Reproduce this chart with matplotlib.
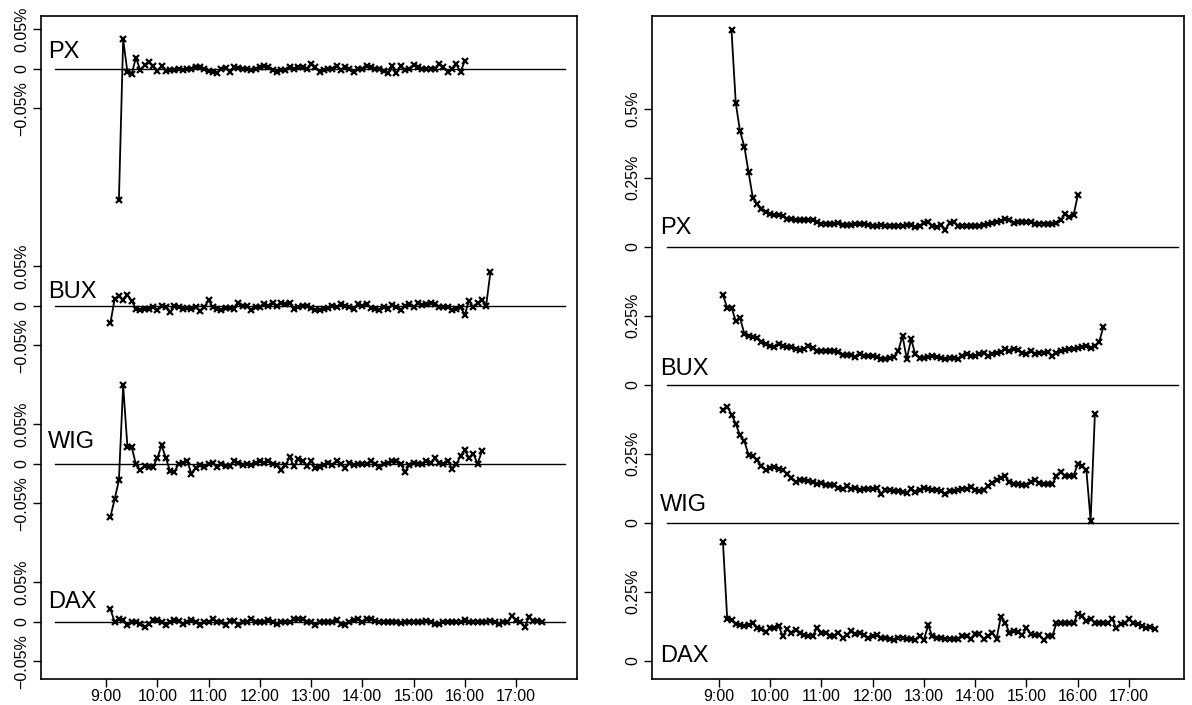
import numpy as np
import matplotlib
matplotlib.use("Agg")
import matplotlib.pyplot as plt

plt.rcParams['font.family'] = ['Liberation Sans', 'DejaVu Sans']

# ---------------- data ----------------
names = ["PX", "BUX", "WIG", "DAX"]
start_times = {"PX": "9:15", "BUX": "9:05", "WIG": "9:05", "DAX": "9:05"}  # 5-minute steps
x_ticks = [9, 10, 11, 12, 13, 14, 15, 16, 17]
x_tick_labels = ["9:00", "10:00", "11:00", "12:00", "13:00", "14:00", "15:00", "16:00", "17:00"]

# left panel: mean (in %)
left_px = [-0.1667, 0.0371, -0.0042, -0.0063, 0.0139, -0.0021, 0.0042, 0.0084, 0.0030, -0.0030,
           0.0034, -0.003, -0.002, -0.002, -0.001, -0.002, 0.0, 0.0, 0.002, 0.002,
           -0.001, -0.003, -0.004, -0.005, 0.0, 0.001, -0.004, 0.002, 0.001, -0.001,
           -0.001, -0.002, -0.001, 0.002, 0.003, 0.002, -0.002, -0.004, -0.002, -0.002,
           0.002, 0.0, 0.002, 0.002, 0.0, 0.0055, 0.002, -0.004, -0.002, -0.001,
           -0.001, 0.003, -0.002, 0.002, -0.001, -0.004, 0.0, 0.0, 0.004, 0.002,
           0.0, -0.001, -0.003, -0.005, 0.003, -0.005, 0.003, -0.002, -0.001, 0.005,
           0.002, -0.001, -0.001, -0.001, 0.0, 0.006, 0.002, -0.004, -0.001, 0.0055,
           -0.004, 0.0097]
left_bux = [-0.0224, 0.0084, 0.0127, 0.0072, 0.0139, 0.0063, -0.0042, -0.0055, -0.0042, -0.0042,
            -0.002, -0.0055, 0.0, -0.002, -0.0084, -0.001, -0.002, -0.004, -0.003, -0.004,
            -0.002, -0.007, -0.002, 0.007, -0.002, -0.004, -0.0055, -0.003, -0.003, -0.004,
            0.003, 0.0, -0.001, -0.0055, -0.002, -0.002, 0.002, 0.0, 0.004, 0.0,
            0.004, 0.002, 0.003, -0.004, -0.002, 0.0, 0.0, -0.003, -0.0055, -0.0055,
            -0.004, -0.003, -0.001, -0.002, 0.002, 0.0, -0.002, -0.004, 0.002, -0.001,
            0.002, -0.003, -0.004, -0.006, -0.002, -0.004, 0.001, -0.002, -0.0055, 0.0,
            0.002, -0.002, 0.003, 0.001, 0.002, 0.003, 0.002, -0.002, -0.002, -0.002,
            -0.0055, -0.004, -0.002, -0.0114, 0.0063, -0.002, 0.003, 0.007, 0.0, 0.0422]
left_wig = [-0.0675, -0.0451, -0.0211, 0.0992, 0.0211, 0.0211, -0.001, -0.0084, -0.003, -0.004,
            -0.004, 0.0072, 0.0232, 0.0072, -0.0097, -0.0105, 0.0, 0.001, 0.003, -0.0127,
            -0.0055, -0.002, -0.004, -0.001, 0.001, -0.004, -0.001, -0.003, -0.003, 0.003,
            0.001, -0.002, 0.0, -0.002, 0.001, 0.004, 0.001, 0.003, -0.001, -0.002,
            -0.0084, -0.002, 0.0084, -0.003, 0.0055, 0.004, -0.003, 0.004, -0.0055, -0.004,
            -0.002, 0.001, -0.002, 0.004, -0.001, -0.0055, 0.001, -0.002, -0.001, -0.001,
            -0.001, 0.003, -0.001, -0.004, -0.001, 0.001, 0.004, 0.003, 0.0, -0.0105,
            -0.002, 0.001, -0.001, 0.0, 0.004, 0.001, 0.0072, 0.001, 0.0, 0.004,
            -0.0063, -0.001, 0.0097, 0.0169, 0.0072, 0.0127, 0.0, 0.0156]
left_dax = [0.016, 0.0, 0.0034, 0.0025, -0.0042, -0.001, -0.001, -0.003, -0.007, -0.003,
            0.0025, 0.0025, -0.001, -0.0042, -0.001, 0.0025, 0.001, -0.003, -0.001, 0.0025,
            -0.001, -0.0042, -0.001, -0.001, 0.004, 0.0, 0.0, -0.0042, 0.001, 0.001,
            -0.0042, -0.001, -0.001, 0.004, -0.001, 0.0, -0.001, 0.0025, 0.0, -0.003,
            -0.001, 0.0, -0.001, 0.0034, 0.0034, 0.0034, -0.001, -0.001, -0.0042, 0.0,
            -0.001, 0.0, -0.001, 0.0025, -0.003, -0.0042, -0.001, 0.0025, 0.0034, -0.001,
            0.004, 0.004, 0.001, 0.0, 0.0, 0.0, -0.001, -0.001, -0.002, -0.001,
            0.0, -0.001, -0.001, -0.001, 0.001, -0.001, -0.003, -0.003, -0.001, 0.0,
            0.0, -0.001, -0.001, 0.0025, 0.0, -0.001, -0.001, -0.001, 0.0, 0.001,
            -0.001, -0.003, -0.001, -0.001, 0.0076, 0.0025, 0.0, -0.007, 0.0055, 0.001,
            0.001, 0.0]

# right panel: dispersion (in %)
right_px = [0.784, 0.519, 0.418, 0.363, 0.269, 0.176, 0.155, 0.138, 0.125, 0.119,
            0.115, 0.114, 0.112, 0.100, 0.099, 0.097, 0.096, 0.095, 0.096, 0.095,
            0.090, 0.084, 0.084, 0.084, 0.084, 0.085, 0.080, 0.079, 0.080, 0.081,
            0.083, 0.081, 0.080, 0.074, 0.076, 0.077, 0.074, 0.074, 0.074, 0.076,
            0.076, 0.077, 0.079, 0.070, 0.075, 0.085, 0.090, 0.076, 0.072, 0.078,
            0.062, 0.087, 0.090, 0.074, 0.074, 0.074, 0.074, 0.074, 0.076, 0.079,
            0.083, 0.086, 0.090, 0.092, 0.100, 0.098, 0.086, 0.088, 0.089, 0.090,
            0.088, 0.082, 0.084, 0.084, 0.082, 0.084, 0.086, 0.096, 0.118, 0.106,
            0.114, 0.186]
right_bux = [0.324, 0.279, 0.279, 0.231, 0.241, 0.185, 0.177, 0.173, 0.171, 0.156,
             0.149, 0.141, 0.137, 0.149, 0.141, 0.137, 0.135, 0.129, 0.125, 0.131,
             0.141, 0.132, 0.123, 0.123, 0.123, 0.123, 0.123, 0.120, 0.108, 0.108,
             0.108, 0.101, 0.110, 0.104, 0.104, 0.104, 0.101, 0.093, 0.093, 0.097,
             0.101, 0.123, 0.177, 0.093, 0.165, 0.110, 0.097, 0.097, 0.101, 0.104,
             0.101, 0.097, 0.093, 0.097, 0.097, 0.093, 0.104, 0.110, 0.104, 0.104,
             0.110, 0.116, 0.104, 0.110, 0.116, 0.120, 0.129, 0.123, 0.129, 0.125,
             0.116, 0.110, 0.123, 0.112, 0.116, 0.116, 0.120, 0.104, 0.116, 0.123,
             0.125, 0.129, 0.129, 0.132, 0.135, 0.141, 0.132, 0.141, 0.156, 0.209]
right_wig = [0.409, 0.421, 0.392, 0.358, 0.316, 0.295, 0.246, 0.240, 0.226, 0.204,
             0.192, 0.199, 0.202, 0.196, 0.190, 0.178, 0.163, 0.147, 0.156, 0.154,
             0.151, 0.147, 0.141, 0.144, 0.135, 0.135, 0.135, 0.127, 0.123, 0.132,
             0.123, 0.127, 0.117, 0.123, 0.123, 0.123, 0.127, 0.105, 0.117, 0.117,
             0.114, 0.114, 0.110, 0.107, 0.123, 0.110, 0.117, 0.127, 0.123, 0.120,
             0.117, 0.114, 0.105, 0.114, 0.114, 0.117, 0.123, 0.123, 0.129, 0.120,
             0.114, 0.120, 0.132, 0.144, 0.154, 0.163, 0.168, 0.147, 0.141, 0.139,
             0.135, 0.135, 0.147, 0.154, 0.144, 0.141, 0.141, 0.139, 0.168, 0.183,
             0.171, 0.168, 0.171, 0.211, 0.204, 0.192, 0.007, 0.394]
right_dax = [0.429, 0.150, 0.146, 0.132, 0.128, 0.126, 0.128, 0.135, 0.120, 0.114,
             0.104, 0.120, 0.120, 0.126, 0.090, 0.114, 0.102, 0.112, 0.102, 0.092,
             0.090, 0.090, 0.120, 0.102, 0.100, 0.090, 0.088, 0.102, 0.084, 0.092,
             0.108, 0.096, 0.102, 0.092, 0.084, 0.090, 0.092, 0.084, 0.084, 0.080,
             0.076, 0.084, 0.084, 0.080, 0.078, 0.076, 0.088, 0.076, 0.128, 0.088,
             0.084, 0.084, 0.080, 0.080, 0.080, 0.080, 0.090, 0.088, 0.080, 0.096,
             0.096, 0.078, 0.088, 0.102, 0.080, 0.159, 0.138, 0.102, 0.108, 0.104,
             0.092, 0.120, 0.096, 0.092, 0.092, 0.076, 0.090, 0.088, 0.135, 0.135,
             0.135, 0.135, 0.135, 0.171, 0.162, 0.144, 0.152, 0.138, 0.138, 0.138,
             0.135, 0.152, 0.120, 0.132, 0.135, 0.150, 0.138, 0.132, 0.126, 0.120,
             0.123, 0.116]

left_offsets = [0.7, 0.4, 0.2, 0.0]
right_offsets = [1.5, 1.0, 0.5, 0.0]
left_yticks = [-0.05, 0.0, 0.05]
left_ytick_labels = ["\u22120.05%", "0", "0.05%"]
right_yticks = {"PX": [0.0, 0.25, 0.5], "BUX": [0.0, 0.25], "WIG": [0.0, 0.25], "DAX": [0.0, 0.25]}
right_ytick_text = {0.0: "0", 0.25: "0.25%", 0.5: "0.5%"}

# ---------------- layout ----------------
W, H = 1192, 705
fig = plt.figure(figsize=(W / 100, H / 100), dpi=100)
box_top, box_bot = 16, 679
axL = fig.add_axes([41 / W, 1 - box_bot / H, (577 - 41) / W, (box_bot - box_top) / H])
axR = fig.add_axes([652 / W, 1 - box_bot / H, (1184 - 652) / W, (box_bot - box_top) / H])


def times_for(name, n):
    h, m = start_times[name].split(":")
    t0 = int(h) + int(m) / 60.0
    return t0 + np.arange(n) * 5 / 60.0


line_x = [8.0, 17.95]
mk = dict(color="black", lw=1.3, marker="x", ms=4.6, mew=1.6)

left_series = [left_px, left_bux, left_wig, left_dax]
left_label_dy = [0.0215, 0.0177, 0.0273, 0.0253]
for name, vals, off, dy in zip(names, left_series, left_offsets, left_label_dy):
    axL.plot(line_x, [off, off], color="black", lw=1.0, zorder=1)
    x = times_for(name, len(vals))
    axL.plot(x, np.array(vals) + off, zorder=3, **mk)
    axL.text(7.87, off + dy, name, fontsize=17, va="center", ha="left")

right_series = [right_px, right_bux, right_wig, right_dax]
right_label_dy = [0.068, 0.056, 0.064, 0.018]
for i, (name, vals, off, dy) in enumerate(zip(names, right_series, right_offsets, right_label_dy)):
    if i < 3:
        axR.plot(line_x, [off, off], color="black", lw=1.0, zorder=1)
    x = times_for(name, len(vals))
    axR.plot(x, np.array(vals) + off, zorder=3, **mk)
    axR.text(7.85, off + dy, name, fontsize=17, va="center", ha="left")

# y ticks
lt, ll = [], []
for off in left_offsets:
    for t, lab in zip(left_yticks, left_ytick_labels):
        lt.append(off + t)
        ll.append(lab)
axL.set_yticks(lt)
axL.set_yticklabels(ll, rotation=90, va="center")

rt, rl = [], []
for name, off in zip(names, right_offsets):
    for t in right_yticks[name]:
        rt.append(off + t)
        rl.append(right_ytick_text[t])
axR.set_yticks(rt)
axR.set_yticklabels(rl, rotation=90, va="center")

axL.set_xlim(7.73, 18.19)
axL.set_ylim(-(box_bot - 621.7) / 790, (621.7 - box_top) / 790)
axR.set_xlim(7.70, 7.70 + (1184 - 652) / 51.3)
axR.set_ylim(-(box_bot - 660.7) / 276, (660.7 - box_top) / 276)

for ax in (axL, axR):
    ax.set_xticks(x_ticks)
    ax.set_xticklabels(x_tick_labels)
    ax.tick_params(axis="both", labelsize=11.5, length=5.5, width=1.0, direction="out", colors="black")
    ax.tick_params(axis="y", pad=3)
    ax.tick_params(axis="x", pad=2)
    for s in ax.spines.values():
        s.set_linewidth(1.2)
        s.set_color("black")

fig.savefig("out.png", dpi=100)
